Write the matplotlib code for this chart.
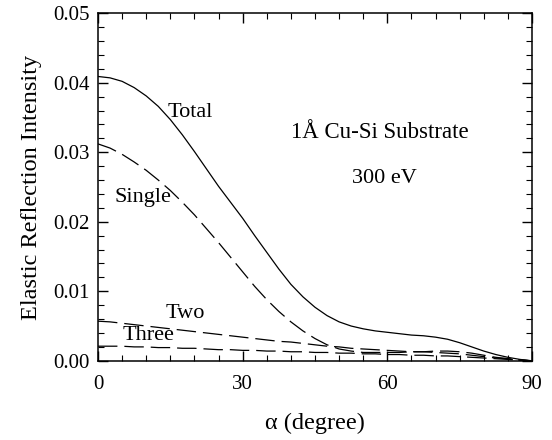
import matplotlib
matplotlib.use("Agg")
import matplotlib.pyplot as plt
from matplotlib.ticker import MultipleLocator

plt.rcParams['font.family'] = ['Liberation Serif', 'DejaVu Serif']
plt.rcParams['lines.scale_dashes'] = False

# elastic reflection intensity vs. polar angle
angle = [0, 2.5, 5, 7.5, 10, 12.5, 15, 17.5, 20, 22.5, 25, 27.5, 30, 32.5, 35, 37.5,
         40, 42.5, 45, 47.5, 50, 52.5, 55, 57.5, 60, 62.5, 65, 67.5, 70, 72.5, 75,
         77.5, 80, 82.5, 85, 87.5, 90]
total = [0.0409, 0.0407, 0.0402, 0.0393, 0.0381, 0.0366, 0.0347, 0.0325, 0.0301,
         0.0276, 0.0251, 0.0228, 0.0205, 0.0180, 0.0156, 0.0132, 0.0110, 0.0092,
         0.0077, 0.0065, 0.0056, 0.0050, 0.0046, 0.0043, 0.0041, 0.0039, 0.0037,
         0.0036, 0.0034, 0.0031, 0.0026, 0.0020, 0.0014, 0.0009, 0.0005, 0.0002, 0.0]
single = [0.0312, 0.0306, 0.0297, 0.0286, 0.0274, 0.0260, 0.0245, 0.0228, 0.0210,
          0.0190, 0.0170, 0.0149, 0.0128, 0.0107, 0.0088, 0.0071, 0.0056, 0.0043,
          0.0032, 0.0023, 0.0017, 0.0014, 0.0012, 0.0012, 0.0012, 0.0012, 0.0013,
          0.0013, 0.0014, 0.0014, 0.0013, 0.0011, 0.0008, 0.0005, 0.0003, 0.0001, 0.0]
two = [0.0057, 0.0056, 0.0054, 0.0052, 0.0050, 0.0048, 0.0046, 0.0044, 0.0042,
       0.0040, 0.0038, 0.0036, 0.0034, 0.0032, 0.0030, 0.0028, 0.0027, 0.0025,
       0.0023, 0.0021, 0.0020, 0.0018, 0.0017, 0.0016, 0.0015, 0.0014, 0.0013,
       0.0013, 0.0012, 0.0011, 0.0010, 0.0008, 0.0006, 0.0004, 0.0003, 0.0001, 0.0]
three = [0.0021, 0.0021, 0.0021, 0.0020, 0.0020, 0.0019, 0.0019, 0.0018, 0.0018,
         0.0017, 0.0016, 0.0016, 0.0015, 0.0015, 0.0014, 0.0014, 0.0013, 0.0013,
         0.0012, 0.0012, 0.0011, 0.0011, 0.0010, 0.0010, 0.0009, 0.0009, 0.0008,
         0.0008, 0.0007, 0.0007, 0.0006, 0.0005, 0.0004, 0.0003, 0.0002, 0.0001, 0.0]

fig = plt.figure(figsize=(5.52, 4.4), dpi=100)
ax = fig.add_axes([0.1775, 0.180, 0.7863, 0.790])

dash = (14, 5)
ax.plot(angle, total, color='k', lw=0.9)
ax.plot(angle, single, color='k', lw=0.9, dashes=dash)
ax.plot(angle, two, color='k', lw=0.9, dashes=dash)
ax.plot(angle, three, color='k', lw=0.9, dashes=dash)

# curve labels
fs = 16
ax.text(19.1, 0.0357, 'Total', fontsize=fs, ha='center', va='center')
ax.text(9.4, 0.0235, 'Single', fontsize=fs, ha='center', va='center')
ax.text(18.1, 0.0068, 'Two', fontsize=fs, ha='center', va='center')
ax.text(10.4, 0.0036, 'Three', fontsize=fs, ha='center', va='center')
ax.text(58.5, 0.0328, '1Å Cu-Si Substrate', fontsize=fs + 0.5, ha='center', va='center')
ax.text(59.5, 0.0262, '300 eV', fontsize=fs, ha='center', va='center')

ax.set_xlim(0, 90)
ax.set_ylim(0, 0.05)
ax.xaxis.set_major_locator(MultipleLocator(30))
ax.xaxis.set_minor_locator(MultipleLocator(5))
ax.yaxis.set_major_locator(MultipleLocator(0.01))
ax.yaxis.set_minor_locator(MultipleLocator(0.002))
ax.yaxis.set_major_formatter(plt.FormatStrFormatter('%.2f'))

ax.tick_params(which='both', direction='in', top=True, right=True, labelsize=15)
ax.tick_params(which='major', length=7, width=1)
ax.tick_params(which='minor', length=4.5, width=0.8)
ax.tick_params(axis='x', pad=10)
ax.tick_params(axis='y', pad=6)
for s in ax.spines.values():
    s.set_linewidth(1.1)

ax.set_xlabel('α (degree)', fontsize=17.5, labelpad=14)
ax.set_ylabel('Elastic Reflection Intensity', fontsize=17.5, labelpad=8)

fig.savefig('out.png', dpi=100)
